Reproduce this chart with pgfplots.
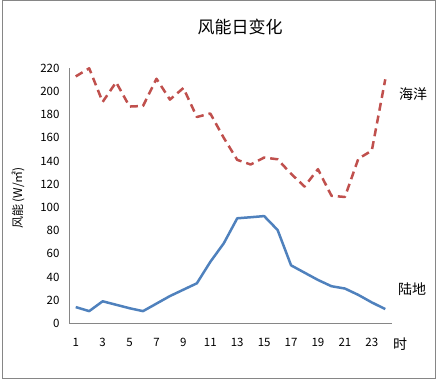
\documentclass[border=0pt]{standalone}
\usepackage{pgfplots}
\pgfplotsset{compat=1.18}
\usepackage{fontspec}
\setmainfont{Noto Sans CJK SC}
\definecolor{ocean}{HTML}{C0504D}
\definecolor{land}{HTML}{4F81BD}
\definecolor{frame}{HTML}{868686}
\begin{document}
\begin{tikzpicture}[x=1pt,y=1pt]
\useasboundingbox (0,0) rectangle (441,381);
\draw[frame, line width=1pt] (2,3) rectangle (435,380);
\node[font=\fontsize{17}{19}\selectfont] at (240,354) {风能日变化};
\begin{axis}[
  at={(69pt,57.7pt)}, anchor=south west,
  scale only axis, width=323pt, height=255pt,
  xmin=0.5, xmax=24.5, ymin=0, ymax=220,
  axis lines*=left,
  axis line style={frame, line width=0.8pt, -},
  xtick={1,3,...,23}, ytick={0,20,...,220},
  major tick length=0pt,
  tick label style={font=\fontsize{11.5}{13}\selectfont, text=black},
  /pgf/number format/assume math mode=true,
  xticklabel style={yshift=-11pt},
  yticklabel style={xshift=-6pt},
  clip=false,
]
\addplot[ocean, line width=2.5pt, dash pattern=on 8pt off 5pt, line join=round] coordinates {
(1,213) (2,220) (3,191) (4,208) (5,187) (6,187.5) (7,211) (8,193) (9,203) (10,178)
(11,181) (12,160) (13,141) (14,137) (15,143) (16,141.5) (17,129) (18,118) (19,133)
(20,110) (21,109) (22,142) (23,149) (24,210.5)};
\addplot[land, line width=2.5pt, line join=round] coordinates {
(1,14) (2,10.5) (3,19) (4,16) (5,13) (6,10.5) (7,17) (8,23.5) (9,29) (10,34.5)
(11,53) (12,69) (13,90.6) (14,91.5) (15,92.5) (16,80.5) (17,50) (18,43.7) (19,37.4)
(20,32) (21,30) (22,24.5) (23,18) (24,12.3)};
\end{axis}
\node[font=\fontsize{14}{16}\selectfont] at (413,287) {海洋};
\node[font=\fontsize{14}{16}\selectfont] at (412,92) {陆地};
\node[font=\fontsize{14}{16}\selectfont] at (400,37) {时};
\node[rotate=90, font=\fontsize{12}{14}\selectfont] at (18,183) {风能 (W/㎡)};
\end{tikzpicture}
\end{document}
